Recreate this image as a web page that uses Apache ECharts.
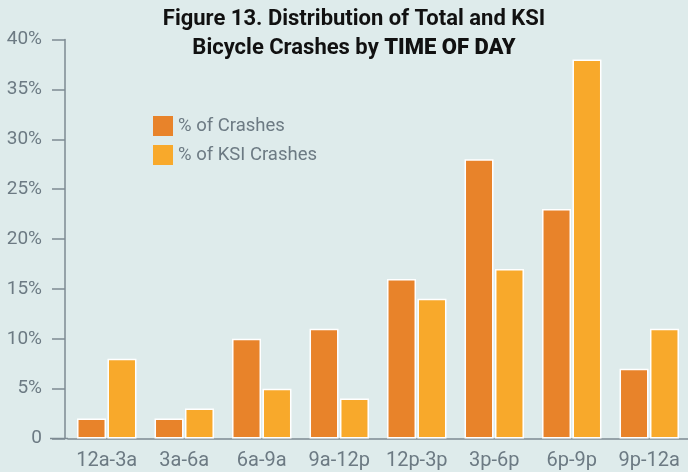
<!DOCTYPE html>
<html>
<head>
<meta charset="utf-8">
<script src="https://cdn.jsdelivr.net/npm/echarts@6/dist/echarts.min.js"></script>
<style>
  html, body { margin: 0; padding: 0; background: #deebeb; }
  #chart { width: 688px; height: 472px; }
</style>
</head>
<body>
<div id="chart"></div>
<script>
// time-of-day buckets
var categories = ['12a-3a', '3a-6a', '6a-9a', '9a-12p', '12p-3p', '3p-6p', '6p-9p', '9p-12a'];
var crashPct = [2, 2, 10, 11, 16, 28, 23, 7];
var ksiPct = [8, 3, 5, 4, 14, 17, 38, 11];
var seriesNames = ['% of Crashes', '% of KSI Crashes'];

var myChart = echarts.init(document.getElementById('chart'));

var axisGray = '#7d8a92';
var textGray = '#6c7a83';

var option = {
    backgroundColor: '#deebeb',
    animation: false,
    title: {
        text: 'Figure 13. Distribution of Total and KSI\nBicycle Crashes by {b|TIME OF DAY}',
        left: 349,
        textAlign: 'center',
        top: 0,
        textStyle: {
            fontFamily: 'Roboto',
            fontSize: 22,
            fontWeight: 'bold',
            color: '#111',
            lineHeight: 29,
            rich: {
                b: {
                    fontFamily: 'Roboto',
                    fontSize: 22,
                    fontWeight: 900,
                    color: '#111',
                    lineHeight: 29
                }
            }
        }
    },
    legend: {
        orient: 'vertical',
        left: 148,
        top: 111,
        itemWidth: 20,
        itemHeight: 20,
        itemGap: 9,
        icon: 'rect',
        data: seriesNames,
        itemStyle: {borderWidth: 0},
        textStyle: {
            fontFamily: 'Roboto',
            fontSize: 18.5,
            color: textGray
        }
    },
    grid: {
        left: 68,
        right: -5,
        top: 39.5,
        bottom: 33.5
    },
    xAxis: {
        type: 'category',
        data: categories,
        axisTick: {show: false},
        axisLine: {lineStyle: {color: axisGray, width: 1.5}},
        axisLabel: {
            fontFamily: 'Roboto',
            fontSize: 20,
            color: textGray,
            margin: 12,
            interval: 0
        }
    },
    yAxis: {
        type: 'value',
        min: 0,
        max: 40,
        interval: 5,
        offset: 3,
        splitLine: {show: false},
        axisLine: {show: true, lineStyle: {color: axisGray, width: 1.5}},
        axisTick: {show: true, length: 13, lineStyle: {color: axisGray, width: 1.5}},
        axisLabel: {
            fontFamily: 'Roboto',
            fontSize: 19,
            color: textGray,
            margin: 23,
            formatter: function (v) {
                return v === 0 ? '0' : v + '%';
            }
        }
    },
    graphic: [{
        type: 'line',
        shape: {x1: 50, y1: 438.5, x2: 68, y2: 438.5},
        style: {stroke: axisGray, lineWidth: 1.5}
    }],
    series: [
        {
            name: seriesNames[0],
            type: 'bar',
            data: crashPct,
            barWidth: 29,
            barGap: '5%',
            itemStyle: {color: '#e8832a', borderColor: '#fff', borderWidth: 1.5}
        },
        {
            name: seriesNames[1],
            type: 'bar',
            data: ksiPct,
            barWidth: 29,
            barGap: '5%',
            itemStyle: {color: '#f8a92b', borderColor: '#fff', borderWidth: 1.5}
        }
    ]
};

myChart.setOption(option);
window.onresize = function () {
    myChart.resize();
};
</script>
</body>
</html>
